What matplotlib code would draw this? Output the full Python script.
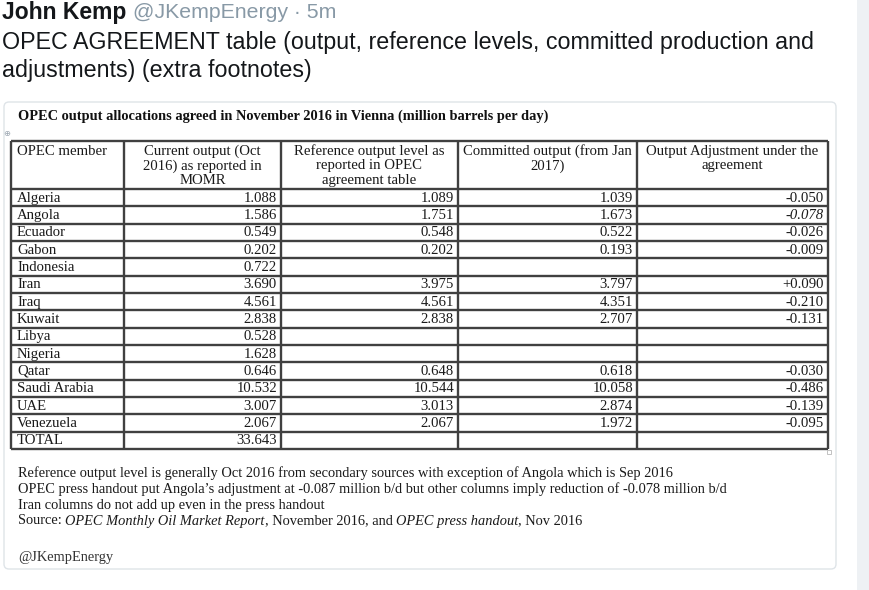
import matplotlib
matplotlib.use("Agg")
import matplotlib.pyplot as plt
from matplotlib import font_manager
from matplotlib.patches import FancyBboxPatch, Rectangle

# ---------------- data ----------------
members = ["Algeria", "Angola", "Ecuador", "Gabon", "Indonesia", "Iran", "Iraq",
           "Kuwait", "Libya", "Nigeria", "Qatar", "Saudi Arabia", "UAE", "Venezuela"]
current_output = [1.088, 1.586, 0.549, 0.202, 0.722, 3.690, 4.561,
                  2.838, 0.528, 1.628, 0.646, 10.532, 3.007, 2.067]
reference_output = [1.089, 1.751, 0.548, 0.202, None, 3.975, 4.561,
                    2.838, None, None, 0.648, 10.544, 3.013, 2.067]
committed_output = [1.039, 1.673, 0.522, 0.193, None, 3.797, 4.351,
                    2.707, None, None, 0.618, 10.058, 2.874, 1.972]
adjustment = [-0.050, -0.078, -0.026, -0.009, None, 0.090, -0.210,
              -0.131, None, None, -0.030, -0.486, -0.139, -0.095]
italic_adjustment = ["Angola"]
total_label = "TOTAL"
total_current = 33.643

column_headers = [
    ["OPEC member"],
    ["Current output (Oct", "2016) as reported in", "MOMR"],
    ["Reference output level as", "reported in OPEC", "agreement table"],
    ["Committed output (from Jan", "2017)"],
    ["Output Adjustment under the", "agreement"],
]

tweet_name = "John Kemp"
tweet_handle = "@JKempEnergy \u00b7 5m"
tweet_lines = ["OPEC AGREEMENT table (output, reference levels, committed production and",
               "adjustments) (extra footnotes)"]
table_title = "OPEC output allocations agreed in November 2016 in Vienna (million barrels per day)"
footnotes = [
    [("Reference output level is generally Oct 2016 from secondary sources with exception of Angola which is Sep 2016", False)],
    [("OPEC press handout put Angola\u2019s adjustment at -0.087 million b/d but other columns imply reduction of -0.078 million b/d", False)],
    [("Iran columns do not add up even in the press handout", False)],
    [("Source: ", False), ("OPEC Monthly Oil Market Report", True), (", November 2016, and ", False),
     ("OPEC press handout", True), (", Nov 2016", False)],
]
signature = "@JKempEnergy"

# ---------------- fonts ----------------
def available(name):
    try:
        font_manager.findfont(name, fallback_to_default=False)
        return True
    except Exception:
        return False

SANS = "Liberation Sans Narrow" if available("Liberation Sans Narrow") else "Liberation Sans"
SERIF = "Liberation Serif"

# ---------------- figure ----------------
W, H = 869, 590
fig = plt.figure(figsize=(W / 100, H / 100), dpi=100)
fig.patch.set_facecolor("white")
ax = fig.add_axes([0, 0, 1, 1])
ax.set_xlim(0, W)
ax.set_ylim(H, 0)
ax.axis("off")
renderer = fig.canvas.get_renderer()


def width_of(t):
    return t.get_window_extent(renderer).width


def fit(x, y, s, target_w, fs0, **kw):
    t = ax.text(x, y, s, fontsize=fs0, **kw)
    w = width_of(t)
    if w > 0:
        t.set_fontsize(fs0 * target_w / w)
    return t


# right grey strip (page background)
ax.add_patch(Rectangle((857, 0), 12, H, facecolor="#eef1f4", edgecolor="none", zorder=0))

# tweet header
t_name = fit(2, 12, tweet_name, 125, 14, family=SANS, fontweight="bold",
             color="#14171a", va="center", ha="left")
ax.text(133, 12, tweet_handle, fontsize=t_name.get_fontsize() * 0.93, family=SANS,
        color="#8899a6", va="center", ha="left")
tl = fit(2, 42, tweet_lines[0], 813, 16, family=SANS, color="#14171a", va="center", ha="left")
ax.text(2, 71, tweet_lines[1], fontsize=tl.get_fontsize(), family=SANS, color="#14171a",
        va="center", ha="left")

# card
ax.add_patch(FancyBboxPatch((4, 102), 832, 467, boxstyle="round,pad=0,rounding_size=5",
                            facecolor="white", edgecolor="#dfe4e8", linewidth=1.0, zorder=1))

# table title
fit(18, 116, table_title, 527, 9, family=SERIF, fontweight="bold", color="#111111",
    va="center", ha="left", zorder=3)

# table geometry
col_x = [11, 124, 281, 458, 637, 828]
top = 141
head_bot = 189
row_h = 17.33
n_rows = len(members) + 1
bottom = head_bot + n_rows * row_h
line_kw = dict(color="#404040", linewidth=1.7, zorder=4, solid_capstyle="butt")

# horizontal lines
ax.plot([col_x[0], col_x[-1]], [top, top], **line_kw)
ax.plot([col_x[0], col_x[-1]], [head_bot, head_bot], **line_kw)
for i in range(1, n_rows + 1):
    y = head_bot + i * row_h
    ax.plot([col_x[0], col_x[-1]], [y, y], **line_kw)
# vertical lines
for x in col_x:
    ax.plot([x, x], [top, bottom], **line_kw)

# small table handles
ax.text(7, 134, "\u2295", fontsize=6, color="#9aa5b0", ha="center", va="center", zorder=4)
ax.add_patch(Rectangle((827, bottom + 1), 4, 4, facecolor="white", edgecolor="#b8b8b8",
                       linewidth=0.6, zorder=4))

FS = 10.6
txt_kw = dict(family=SERIF, fontsize=FS, color="#1a1a1a", zorder=5)

# header text
head_line = 14.5
for ci, lines in enumerate(column_headers):
    for li, s in enumerate(lines):
        y = 151.5 + li * head_line
        if ci == 0:
            ax.text(col_x[0] + 6, y, s, ha="left", va="center", **txt_kw)
        else:
            ax.text((col_x[ci] + col_x[ci + 1]) / 2, y, s, ha="center", va="center", **txt_kw)


def fmt(v):
    return "" if v is None else f"{v:.3f}"


def fmt_adj(v):
    return "" if v is None else f"{v:+.3f}"


rows = []
for i, m in enumerate(members):
    rows.append((m, fmt(current_output[i]), fmt(reference_output[i]),
                 fmt(committed_output[i]), fmt_adj(adjustment[i])))
rows.append((total_label, fmt(total_current), "", "", ""))

for ri, row in enumerate(rows):
    yc = head_bot + (ri + 0.5) * row_h + 0.5
    ax.text(col_x[0] + 6, yc, row[0], ha="left", va="center", **txt_kw)
    for ci in range(1, 5):
        if row[ci]:
            style = "italic" if (ci == 4 and row[0] in italic_adjustment) else "normal"
            ax.text(col_x[ci + 1] - 4, yc, row[ci], ha="right", va="center",
                    fontstyle=style, **txt_kw)

# footnotes
first = footnotes[0][0][0]
t0 = ax.text(0, 0, first, family=SERIF, fontsize=10)
fn_fs = 10 * 655 / width_of(t0)
t0.remove()

fn_y = [473, 489, 505, 521]
for y, runs in zip(fn_y, footnotes):
    x = 18
    for s, it in runs:
        t = ax.text(x, y, s, family=SERIF, fontsize=fn_fs, color="#1a1a1a",
                    fontstyle="italic" if it else "normal", ha="left", va="center", zorder=5)
        x += width_of(t) * (W / fig.bbox.width)

ax.text(18, 557, signature, family=SERIF, fontsize=fn_fs, color="#333333",
        ha="left", va="center", zorder=5)

fig.savefig("out.png", dpi=100, facecolor="white")
